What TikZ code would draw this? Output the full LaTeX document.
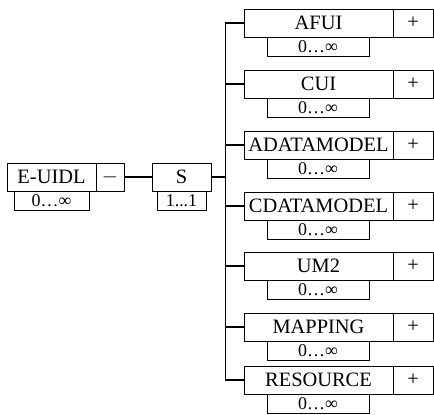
\documentclass[tikz,border=0pt]{standalone}
\usepackage{fontspec}
\setmainfont{Liberation Serif}
\begin{document}
\begin{tikzpicture}[x=1bp,y=-1bp,
        box/.style={draw,line width=0.8pt,inner sep=0pt,minimum height=28bp,font=\fontsize{20.5}{21}\selectfont},
        mult/.style={draw,line width=0.8pt,inner sep=0pt,minimum height=19bp,font=\fontsize{18}{19}\selectfont},
        conn/.style={line width=1.6pt}]
        \useasboundingbox (0,0) rectangle (434,414);
        % root element
        \node[box,minimum width=89bp] (euidl) at (51.5,177) {E-UIDL};
        \node[box,minimum width=28bp] (euidl-s) at (110,177) {$-$};
        \node[mult,minimum width=75bp] (euidl-m) at (51.5,200.5) {0…∞};
        % sequence
        \node[box,minimum width=59bp] (s) at (181.5,177) {S};
        \node[mult,minimum width=49bp] (s-m) at (181.5,200.5) {1...1};
        \draw[conn] (euidl-s.east) -- (s.west);
        \draw[line width=2.2pt] (s.east) -- ++(14,0) coordinate (j);
        % children
        \foreach \name/\txt/\top in {afui/AFUI/9, cui/CUI/70, adm/ADATAMODEL/131,
                cdm/CDATAMODEL/192, um/UM2/252, map/MAPPING/313, res/RESOURCE/366} {
            \node[box,minimum width=149bp] (\name) at (318.5,\top+14) {\txt};
            \node[box,minimum width=40bp] (\name-s) at (413,\top+14) {+};
            \node[mult,minimum width=102bp] (\name-m) at (318,\top+37.5) {0…∞};
            \draw[conn] (\name.west) -| (j);
        }
    \end{tikzpicture}
\end{document}
